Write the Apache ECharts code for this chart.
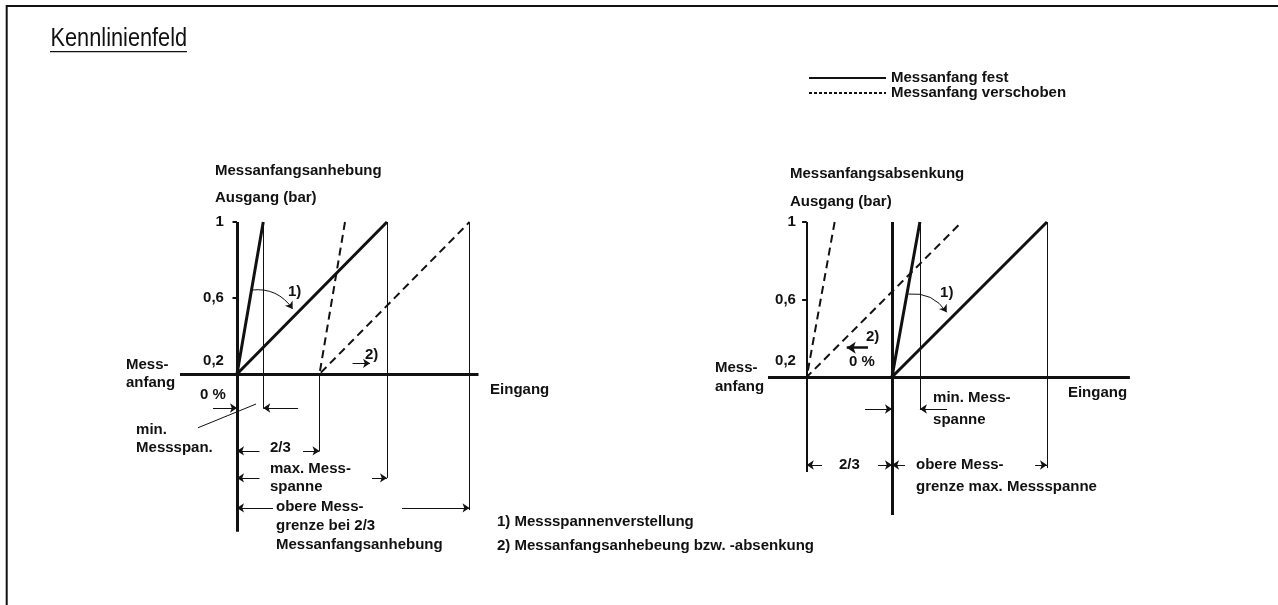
<!DOCTYPE html>
<html><head><meta charset="utf-8">
<script src="https://cdn.jsdelivr.net/npm/echarts@6/dist/echarts.min.js"></script>
<style>html,body{margin:0;padding:0;background:#fff}#c{width:1278px;height:605px}</style>
</head><body><div id="c"></div>
<script>
const FONT = '"Liberation Sans", Arial, sans-serif';
const INK = '#111';

// ---------------- data ----------------
const legendNames = ['Messanfang fest', 'Messanfang verschoben'];
const footnotes = ['1) Messspannenverstellung', '2) Messanfangsanhebeung bzw. -absenkung'];
const titleText = 'Kennlinienfeld';

// Messanfangsanhebung (left) – Eingang in % of max. span, Ausgang in bar
const riseFixed   = [[17.5, 1], [0, 0.2], [100, 1]];
const riseShifted = [[72, 1], [55, 0.2], [155, 1]];
// Messanfangsabsenkung (right)
const lowerFixed   = [[18, 1], [0, 0.2], [100, 1]];
const lowerShifted = [[-37, 1], [-55, 0.2], [45, 1]];

// axes / guide lines (data coordinates)
const riseAxisThick = [[[0, 1], [0, -0.63]], [[-38, 0.2], [161, 0.2]]];
const riseTicks = [[[-3, 1], [0, 1]], [[-3, 0.6], [0, 0.6]]];
const riseGuides = [
  [[17.5, 1], [17.5, 0.02]], [[55, 0.2], [55, -0.205]],
  [[100, 1], [100, -0.347]], [[155, 1], [155, -0.516]],
  [[-26, -0.083], [12.7, 0.042]]
];
const riseArrows = [
  [[-16, 0.021], [0, 0.021]], [[40.7, 0.021], [17.5, 0.021]],
  [[15, -0.205], [0, -0.205]], [[44, -0.205], [55, -0.205]],
  [[15, -0.347], [0, -0.347]], [[90, -0.347], [100, -0.347]],
  [[24, -0.505], [0, -0.505]], [[110, -0.505], [155, -0.505]],
  [[77, 0.256], [88.7, 0.256]]
];
const riseCurve = [[[9.8, 0.642], [37.1, 0.542]]];
const riseTexts = [
  ['Messanfangsanhebung', -14.7, 1.268, 'L'],
  ['Ausgang (bar)', -14.7, 1.126, 'L'],
  ['1', -8.7, 1.0, 'R'], ['0,6', -8.7, 0.6, 'R'], ['0,2', -8.7, 0.27, 'R'],
  ['Mess-', -74, 0.247, 'L'], ['anfang', -74, 0.153, 'L'],
  ['0 %', -24.7, 0.089, 'L'],
  ['min.', -67.3, -0.095, 'L'], ['Messspan.', -67.3, -0.189, 'L'],
  ['2/3', 22, -0.189, 'L'],
  ['max. Mess-', 22, -0.3, 'L'], ['spanne', 22, -0.395, 'L'],
  ['obere Mess-', 26, -0.5, 'L'], ['grenze bei 2/3', 26, -0.6, 'L'], ['Messanfangsanhebung', 26, -0.7, 'L'],
  ['Eingang', 168.7, 0.116, 'L'],
  ['1)', 34, 0.63, 'L'], ['2)', 85.3, 0.3, 'L']
];

const lowerAxisThick = [[[0, 1], [0, -0.512]], [[-80, 0.2], [153.5, 0.2]]];
const lowerAxisThin = [[[-55, 1], [-55, -0.29]]];
const lowerTicks = [[[-58, 1], [-55, 1]], [[-58, 0.6], [-55, 0.6]]];
const lowerGuides = [[[18, 1], [18, 0.03]], [[100, 1], [100, -0.27]]];
const lowerArrows = [
  [[-17.4, 0.035], [0, 0.035]], [[35.5, 0.035], [18, 0.035]],
  [[-45.2, -0.254], [-55, -0.254]], [[-9, -0.254], [0, -0.254]],
  [[8.4, -0.254], [0, -0.254]], [[92.3, -0.254], [100, -0.254]]
];
const lowerBoldArrow = [[[-15.5, 0.351], [-29.2, 0.351]]];
const lowerCurve = [[[10.5, 0.628], [35.3, 0.534]]];
const lowerTexts = [
  ['Messanfangsabsenkung', -65.8, 1.248, 'L'],
  ['Ausgang (bar)', -65.8, 1.105, 'L'],
  ['1', -62, 1.0, 'R'], ['0,6', -62, 0.6, 'R'], ['0,2', -62, 0.285, 'R'],
  ['Mess-', -114.2, 0.246, 'L'], ['anfang', -114.2, 0.15, 'L'],
  ['2)', -16.8, 0.406, 'L'], ['0 %', -27.7, 0.276, 'L'],
  ['1)', 31, 0.635, 'L'],
  ['min. Mess-', 26.5, 0.092, 'L'], ['spanne', 26.5, -0.022, 'L'],
  ['2/3', -34.2, -0.254, 'L'],
  ['obere Mess-', 15.5, -0.254, 'L'], ['grenze max. Messspanne', 15.5, -0.366, 'L'],
  ['Eingang', 113.5, 0.117, 'L']
];

// ---------------- helpers ----------------
function curve(gi, name, data, dashed) {
  return {
    type: 'line', name, xAxisIndex: gi, yAxisIndex: gi, data, symbol: 'none', silent: true,
    itemStyle: { color: INK },
    lineStyle: dashed ? { color: INK, width: 2, type: [8, 5] } : { color: INK, width: 3 }
  };
}
function segs(gi, list, width, arrow, curveness) {
  return {
    type: 'lines', coordinateSystem: 'cartesian2d', xAxisIndex: gi, yAxisIndex: gi, silent: true,
    symbol: arrow ? ['none', 'arrow'] : ['none', 'none'], symbolSize: arrow === 'big' ? 9 : 7,
    lineStyle: { color: INK, width, opacity: 1, curveness: curveness || 0 },
    data: list.map(c => ({ coords: c }))
  };
}
function texts(gi, list) {
  return {
    type: 'scatter', xAxisIndex: gi, yAxisIndex: gi, symbolSize: 0, clip: false, silent: true,
    itemStyle: { color: 'rgba(0,0,0,0)', opacity: 1 },
    label: { show: true, color: INK, opacity: 1, fontFamily: FONT, fontSize: 15, fontWeight: 'bold', distance: 0, formatter: p => p.name },
    data: list.map(t => ({ name: t[0], value: [t[1], t[2]], label: { position: t[3] === 'R' ? 'left' : 'right' } }))
  };
}
const hidden = { show: false };

const chart = echarts.init(document.getElementById('c'), null, { renderer: 'canvas' });
chart.setOption({
  animation: false,
  backgroundColor: '#fff',
  grid: [
    { left: 117, top: 146, width: 480, height: 418 },
    { left: 706, top: 144.5, width: 434, height: 426.25 }
  ],
  xAxis: [
    { type: 'value', gridIndex: 0, min: -80, max: 240, ...hidden },
    { type: 'value', gridIndex: 1, min: -120, max: 160, ...hidden }
  ],
  yAxis: [
    { type: 'value', gridIndex: 0, min: -0.8, max: 1.4, ...hidden },
    { type: 'value', gridIndex: 1, min: -0.8, max: 1.4, ...hidden }
  ],
  legend: {
    data: [
      { name: legendNames[0], itemStyle: { opacity: 0 }, lineStyle: { width: 2, type: 'solid' } },
      { name: legendNames[1], itemStyle: { opacity: 0 }, lineStyle: { width: 2, type: [3, 2] } }
    ],
    orient: 'vertical', left: 803, top: 65.5, itemWidth: 77, itemHeight: 10, itemGap: 0,
    selectedMode: false,
    textStyle: { color: INK, fontFamily: FONT, fontSize: 15, fontWeight: 'bold', lineHeight: 15 }
  },
  graphic: [
    { type: 'line', shape: { x1: 6, y1: 6, x2: 1278, y2: 6 }, style: { stroke: INK, lineWidth: 2 } },
    { type: 'line', shape: { x1: 6.7, y1: 5, x2: 6.7, y2: 605 }, style: { stroke: INK, lineWidth: 2 } },
    { type: 'text', x: 50.5, y: 39.5, scaleX: 0.87, style: { text: titleText, font: '25px ' + FONT, fill: INK, textAlign: 'left', textVerticalAlign: 'middle' } },
    { type: 'line', shape: { x1: 50, y1: 51.7, x2: 187, y2: 51.7 }, style: { stroke: INK, lineWidth: 1.3 } },
    { type: 'text', x: 497, y: 521.7, style: { text: footnotes[0], font: 'bold 15px ' + FONT, fill: INK, textAlign: 'left', textVerticalAlign: 'middle' } },
    { type: 'text', x: 497, y: 545.7, style: { text: footnotes[1], font: 'bold 15px ' + FONT, fill: INK, textAlign: 'left', textVerticalAlign: 'middle' } }
  ],
  series: [
    curve(0, legendNames[0], riseFixed, false),
    curve(0, legendNames[1], riseShifted, true),
    curve(1, legendNames[0], lowerFixed, false),
    curve(1, legendNames[1], lowerShifted, true),
    segs(0, riseAxisThick, 3, false),
    segs(0, riseTicks, 2, false),
    segs(0, riseGuides, 1, false),
    segs(0, riseArrows, 1, true),
    segs(0, riseCurve, 1, true, 0.3),
    texts(0, riseTexts),
    segs(1, lowerAxisThick, 3, false),
    segs(1, lowerAxisThin, 2, false),
    segs(1, lowerTicks, 2, false),
    segs(1, lowerGuides, 1, false),
    segs(1, lowerArrows, 1, true),
    segs(1, lowerBoldArrow, 2.5, 'big'),
    segs(1, lowerCurve, 1, true, 0.3),
    texts(1, lowerTexts)
  ]
});
</script></body></html>
